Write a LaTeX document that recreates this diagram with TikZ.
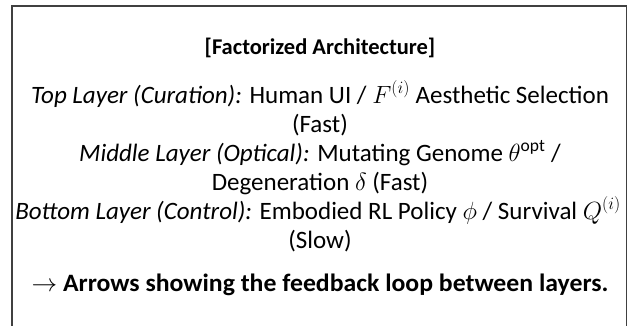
\documentclass[tikz,border=0pt]{standalone}
\usepackage{amsmath}
\usepackage{graphicx}
\usepackage{fontspec}
\setmainfont{Carlito}
\begin{document}
\begin{tikzpicture}[x=1pt,y=-1pt,
  txt/.style={anchor=base,inner sep=0pt,font=\fontsize{25}{29}\selectfont},
  btxt/.style={txt,font=\fontsize{25}{29}\selectfont\bfseries},
  frame/.style={draw=black!75,line width=1.1pt}]
\useasboundingbox (0,0) rectangle (628,326);
\begin{scope}
\clip (0,0) rectangle (628,326);
\draw[frame] (12,6) rectangle (626.5,340);
\end{scope}
\node[btxt,font=\fontsize{22.5}{27}\selectfont\bfseries] (title) at (320,55) {[Factorized Architecture]};
\node[txt] (top) at (320,103) {\textit{Top Layer (Curation):} Human UI / $F^{(i)}$ Aesthetic Selection};
\node[txt] (topb) at (320,132) {(Fast)};
\node[txt] (mid) at (320,161) {\textit{Middle Layer (Optical):} Mutating Genome $\theta^{\mathrm{opt}}$ /};
\node[txt] (midb) at (320,190) {Degeneration $\delta$ (Fast)};
\node[txt] (bot) at (318,219) {\textit{Bottom Layer (Control):} Embodied RL Policy $\phi$ / Survival $Q^{(i)}$};
\node[txt] (botb) at (320,248) {(Slow)};
\node[btxt] (arr) at (320,291) {\scalebox{1.03}[1]{$\rightarrow$ Arrows showing the feedback loop between layers.}};
\end{tikzpicture}
\end{document}
